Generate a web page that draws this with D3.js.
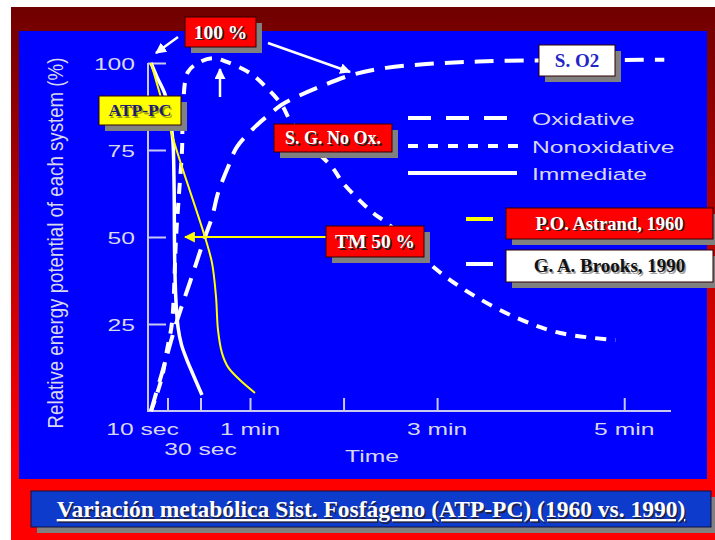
<!DOCTYPE html>
<html>
<head>
<meta charset="utf-8">
<script src="https://cdn.jsdelivr.net/npm/d3@7"></script>
<style>
  html, body { margin:0; padding:0; background:#fff; }
  svg { display:block; }
</style>
</head>
<body>
<svg id="chart" width="715" height="540"></svg>
<script>
/* ---------- Data: [seconds, % energy potential] ---------- */
const oxidative = [
  [0,0],[6.7,11],[15.8,26],[23.6,37],[32.7,50],[37,55.7],[40.6,62.6],[46.7,70.1],
  [52.1,75.9],[64.5,82.2],[73.5,85.6],[79.9,87.9],[89.6,90.2],[104.3,93.1],
  [125.5,96.6],[147.3,98.6],[173,99.7],[198.7,100.3],[221.8,100.6],[311.6,100.9],[325.7,100.9]
];
const nonoxidative = [
  [0,0],[2.4,3.2],[6.7,9.8],[9.7,17.5],[12.7,25.3],[15.2,50],[17,62.6],[18.8,75],
  [19.4,86.5],[22.4,97.4],[29.7,100.3],[37.6,101.4],[46,100.3],[60,97.1],[70.9,92.8],
  [80.5,87.9],[85.6,83.6],[98.5,76.4],[112.6,70.1],[119.7,65.5],[139,56.9],[148,54],
  [162.7,47.7],[180,40.5],[203.1,33.3],[231.4,26.7],[259,22.4],[294.3,20.4]
];
const immediate = [
  [0,100],[3.6,96],[8.5,91],[11.5,84.6],[13.3,77.4],[13.9,67.4],[14.1,59.4],[14.2,49.7],
  [14.5,40],[15.2,31],[16.4,24],[18.5,19],[21.5,15],[25.5,10.5],[30.9,4.6]
];
const astrand1960 = [
  [0,100],[15.5,75],[32.7,50],[37,42.5],[39.4,32.8],[40.6,23.3],[43,16.7],
  [46.7,12.6],[53.9,8.9],[63.2,5.2]
];

const xTickSecs   = [10, 30, 60, 120, 180, 300];
const xTickLabels = ['10 sec', '30 sec', '1 min', '', '3 min', '5 min'];
const yTicks      = [25, 50, 75, 100];
const legendNames = ['Oxidative', 'Nonoxidative', 'Immediate'];

/* ---------- Setup ---------- */
const SANS  = "'Liberation Sans', Arial, Helvetica, sans-serif";
const SERIF = "'Liberation Serif', 'Times New Roman', serif";
const AXIS  = '#c8c8f0';
const TXT   = '#d8d8ec';
const STRETCH = 1.45;   // the slide's chart image was stretched sideways

const svg  = d3.select('#chart');
const defs = svg.append('defs');

const grad = defs.append('linearGradient').attr('id','frameGrad')
  .attr('x1',0).attr('y1',0).attr('x2',0).attr('y2',1);
grad.append('stop').attr('offset','0%').attr('stop-color','#700000');
grad.append('stop').attr('offset','85%').attr('stop-color','#ff0000');

function marker(id, color, size){
  defs.append('marker').attr('id', id)
    .attr('viewBox','0 0 10 10').attr('refX',9).attr('refY',5)
    .attr('markerWidth',size).attr('markerHeight',size)
    .attr('markerUnits','userSpaceOnUse').attr('orient','auto')
    .append('path').attr('d','M0,0 L10,5 L0,10 z').attr('fill', color);
}
marker('headW', '#fff', 11);
marker('headY', '#ffff00', 11);

// frame + blue panel
svg.append('rect').attr('x',11).attr('y',7).attr('width',704).attr('height',533)
  .attr('fill','url(#frameGrad)');
svg.append('rect').attr('x',19).attr('y',31).attr('width',688).attr('height',448)
  .attr('fill','#0000ff');

const x = d3.scaleLinear().domain([0, 60, 330]).range([151, 250, 671]);
const y = d3.scaleLinear().domain([0, 100]).range([411, 63]);

/* ---------- Axes ---------- */
const gx = svg.append('g').attr('transform',`translate(0,${y(0)})`)
  .call(d3.axisBottom(x).tickValues(xTickSecs).tickSize(-13).tickFormat(''));
gx.select('.domain').remove();
gx.selectAll('line').attr('stroke', AXIS).attr('stroke-width', 2);

const gy = svg.append('g').attr('transform','translate(148,0)')
  .call(d3.axisRight(y).tickValues(yTicks).tickSize(18).tickFormat(''));
gy.select('.domain').remove();
gy.selectAll('line').attr('stroke', AXIS).attr('stroke-width', 2);

svg.append('line').attr('x1',148).attr('x2',x(330)).attr('y1',y(0)).attr('y2',y(0))
  .attr('stroke',AXIS).attr('stroke-width',2);
svg.append('line').attr('x1',148).attr('x2',148).attr('y1',y(0)+1).attr('y2',y(100))
  .attr('stroke',AXIS).attr('stroke-width',2);

function sans(str, px, py, anchor, size){
  return svg.append('text')
    .attr('transform',`translate(${px},${py}) scale(${STRETCH},1)`)
    .attr('text-anchor', anchor)
    .attr('font-family', SANS).attr('font-size', size || 17)
    .attr('fill', TXT).text(str);
}

yTicks.forEach(v => sans(String(v), 135, y(v) + 6.5, 'end'));

xTickSecs.forEach((s, i) => {
  if (!xTickLabels[i]) return;
  const dx = i === 0 ? -25 : 0;          // "10 sec" sits left of its tick
  const base = i === 1 ? 455 : 435;      // "30 sec" is on a second row
  sans(xTickLabels[i], x(s) + dx, base, 'middle');
});

sans('Time', 372, 462, 'middle');

svg.append('text')
  .attr('transform','translate(63,243) rotate(-90) scale(1.1,1.25)')
  .attr('text-anchor','middle')
  .attr('font-family', SANS).attr('font-size', 17).attr('fill', TXT)
  .text('Relative energy potential of each system (%)');

/* ---------- Curves ---------- */
const series = [
  { data: oxidative,    stroke:'#fff',    w:4,   dash:'19,11', legend:'23,15' },
  { data: nonoxidative, stroke:'#fff',    w:4,   dash:'11,9',  legend:'10,10' },
  { data: immediate,    stroke:'#fff',    w:3.5, dash:null,    legend:null },
  { data: astrand1960,  stroke:'#ffff00', w:2,   dash:null,    legend:null }
];

const lineGen = d3.line()
  .x(d => x(d[0])).y(d => y(d[1]))
  .curve(d3.curveCatmullRom.alpha(0.5));

svg.append('g').selectAll('path').data(series).join('path')
  .attr('d', d => lineGen(d.data))
  .attr('fill','none')
  .attr('stroke', d => d.stroke)
  .attr('stroke-width', d => d.w)
  .attr('stroke-dasharray', d => d.dash);

/* ---------- Legend (line styles) ---------- */
const legRows = [118, 146, 173];
const legEnds = [507, 518, 517];
legendNames.forEach((name, i) => {
  svg.append('line').attr('x1',408).attr('x2',legEnds[i]).attr('y1',legRows[i]).attr('y2',legRows[i])
    .attr('stroke','#fff').attr('stroke-width',4)
    .attr('stroke-dasharray', series[i].legend);
  sans(name, 532, legRows[i] + 6.5, 'start');
});

// author legend swatches
svg.append('line').attr('x1',466).attr('x2',493).attr('y1',219).attr('y2',219)
  .attr('stroke','#ffff00').attr('stroke-width',4);
svg.append('line').attr('x1',466).attr('x2',493).attr('y1',264).attr('y2',264)
  .attr('stroke','#fff').attr('stroke-width',4);

/* ---------- Arrows ---------- */
function arrow(x1, y1, x2, y2, color, head, w){
  svg.append('line').attr('x1',x1).attr('y1',y1).attr('x2',x2).attr('y2',y2)
    .attr('stroke',color).attr('stroke-width',w).attr('marker-end',`url(#${head})`);
}
arrow(178, 37, 156, 53, '#fff', 'headW', 2.5);
arrow(268, 43, 350, 72, '#fff', 'headW', 2.5);
arrow(220, 97, 220, 69, '#fff', 'headW', 2.5);
arrow(326, y(50), 185, y(50), '#ffff00', 'headY', 2);

/* ---------- Label boxes ---------- */
function box(b){
  const g = svg.append('g');
  g.append('rect').attr('x', b.x + 6).attr('y', b.y + 6).attr('width', b.w).attr('height', b.h)
    .attr('fill','#808080');
  g.append('rect').attr('x', b.x).attr('y', b.y).attr('width', b.w).attr('height', b.h)
    .attr('fill', b.fill).attr('stroke', '#300000').attr('stroke-width', 1);
  const tx = b.x + b.w / 2, ty = b.y + b.h / 2 + b.size * 0.34;
  if (b.shadow) {
    g.append('text').attr('x', tx + 1.5).attr('y', ty + 1.5).attr('text-anchor','middle')
      .attr('font-family', SERIF).attr('font-weight','bold').attr('font-size', b.size)
      .attr('fill', b.shadow).text(b.text);
  }
  g.append('text').attr('x', tx).attr('y', ty).attr('text-anchor','middle')
    .attr('font-family', SERIF).attr('font-weight','bold').attr('font-size', b.size)
    .attr('fill', b.color).text(b.text);
}

box({ x:185, y:17,  w:71,  h:30, fill:'#ff0000', text:'100 %',        color:'#fff',    shadow:'#202020', size:19.5 });
box({ x:99,  y:96,  w:82,  h:29, fill:'#ffff00', text:'ATP-PC',       color:'#1c1c78', shadow:'#a0a000', size:17.5 });
box({ x:274, y:124, w:118, h:28, fill:'#ff0000', text:'S. G. No Ox.', color:'#fff',    shadow:'#202020', size:18 });
box({ x:326, y:226, w:98,  h:31, fill:'#ff0000', text:'TM 50 %',      color:'#fff',    shadow:'#202020', size:19.5 });
box({ x:539, y:45,  w:76,  h:31, fill:'#ffffff', text:'S. O2',        color:'#2424c8', shadow:null,      size:19 });
box({ x:506, y:208, w:207, h:31, fill:'#ff0000', text:'P.O. Astrand, 1960', color:'#fff', shadow:'#202020', size:18.5 });
box({ x:506, y:250, w:207, h:32, fill:'#ffffff', text:'G. A. Brooks, 1990', color:'#111', shadow:'#a0a0a0', size:19 });

/* ---------- Bottom title ---------- */
const title = 'Variación metabólica Sist. Fosfágeno (ATP-PC) (1960 vs. 1990)';
svg.append('rect').attr('x',37).attr('y',497).attr('width',680).attr('height',36).attr('fill','#808080');
svg.append('rect').attr('x',31).attr('y',491).attr('width',680).attr('height',36)
  .attr('fill','#0d3ccc').attr('stroke','#101040').attr('stroke-width',1);
svg.append('text').attr('x',372.5).attr('y',518.5).attr('text-anchor','middle')
  .attr('font-family',SERIF).attr('font-weight','bold').attr('font-size',23.5)
  .attr('text-decoration','underline').attr('fill','#202040').text(title);
svg.append('text').attr('x',371).attr('y',517).attr('text-anchor','middle')
  .attr('font-family',SERIF).attr('font-weight','bold').attr('font-size',23.5)
  .attr('text-decoration','underline').attr('fill','#ffffff').text(title);
</script>
</body>
</html>
